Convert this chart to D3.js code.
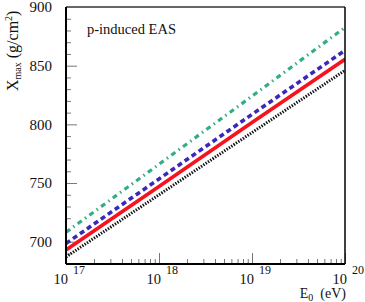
<!DOCTYPE html>
<html>
<head>
<meta charset="utf-8">
<script src="https://cdn.jsdelivr.net/npm/d3@7"></script>
<style>
  body { margin: 0; background: #fff; }
  text { font-family: "Liberation Serif", "Times New Roman", serif; fill: #111; }
</style>
</head>
<body>
<script>
// values (Xmax in g/cm2 at each energy)
var energies = [1e17, 1e18, 1e19, 1e20];
var xmaxDashDot = [708, 766, 824, 882.5];
var xmaxDashed = [698.5, 753.5, 808.5, 863];
var xmaxSolid = [693, 747, 801.5, 855.5];
var xmaxDotted = [687, 740, 793, 846];
var yMajor = [700, 750, 800, 850, 900];
var xMajorExp = [17, 18, 19, 20];

var W = 365, H = 302;
var margin = {top: 7, right: 20, bottom: 38, left: 66};
var width = W - margin.left - margin.right,
    height = H - margin.top - margin.bottom;

var x = d3.scaleLog().domain([1e17, 1e20]).range([0, width]);
var y = d3.scaleLinear().domain([681, 900]).range([height, 0]);

var svg = d3.select("body").append("svg")
    .attr("width", W)
    .attr("height", H)
  .append("g")
    .attr("transform", "translate(" + margin.left + "," + margin.top + ")");

// minor ticks
var yMinor = d3.range(690, 900, 10).filter(function(v){ return v % 50 !== 0; });
var xMinor = [];
[1e17, 1e18, 1e19].forEach(function(d){
  for (var k = 2; k <= 9; k++) xMinor.push(d * k);
});

svg.append("g")
    .attr("class", "ytick")
    .call(d3.axisLeft(y).tickValues(yMinor).tickSize(-5).tickFormat(""));
svg.append("g")
    .attr("class", "ytick")
    .call(d3.axisLeft(y).tickValues(yMajor).tickSize(-11).tickPadding(14).tickFormat(d3.format("d")));
svg.append("g")
    .attr("class", "xtick")
    .attr("transform", "translate(0," + height + ")")
    .call(d3.axisBottom(x).tickValues(xMinor).tickSize(-5).tickFormat(""));
svg.append("g")
    .attr("class", "xtick")
    .attr("transform", "translate(0," + height + ")")
    .call(d3.axisBottom(x).tickValues(energies).tickSize(-11).tickFormat(""));

svg.selectAll(".domain").remove();
svg.selectAll(".tick line").attr("stroke", "#777").attr("stroke-width", 1);
svg.selectAll(".ytick text")
    .style("font-family", "Liberation Serif")
    .style("font-size", "15px")
    .attr("fill", "#111");

// x labels: 10 with exponent
var xl = svg.append("g").selectAll("g")
  .data(xMajorExp)
  .enter().append("g")
    .attr("transform", function(d){ return "translate(" + x(Math.pow(10, d)) + "," + height + ")"; });
xl.append("text")
    .attr("x", 2).attr("y", 20)
    .attr("text-anchor", "end")
    .style("font-size", "14.5px")
    .text("10");
xl.append("text")
    .attr("x", 7).attr("y", 10)
    .style("font-size", "12px")
    .text(function(d){ return d; });

// lines
var line = d3.line()
    .x(function(d){ return x(d[0]); })
    .y(function(d){ return y(d[1]); });

var series = [
  {vals: xmaxDotted, color: "#111", dash: "1.4,1.4", w: 3},
  {vals: xmaxSolid, color: "#f5141e", dash: null, w: 3.6},
  {vals: xmaxDashed, color: "#3a28bb", dash: "5,3.5", w: 3.6},
  {vals: xmaxDashDot, color: "#33ad85", dash: "5,4,1.5,4", w: 3.2}
];

svg.append("defs").append("clipPath").attr("id", "clip")
  .append("rect").attr("width", width).attr("height", height);

svg.append("g").attr("clip-path", "url(#clip)")
  .selectAll("path")
  .data(series)
  .enter().append("path")
    .attr("d", function(s){ return line(energies.map(function(e, i){ return [e, s.vals[i]]; })); })
    .attr("fill", "none")
    .attr("stroke", function(s){ return s.color; })
    .attr("stroke-width", function(s){ return s.w; })
    .attr("stroke-dasharray", function(s){ return s.dash; });

// frame
svg.append("line").attr("x1", 0).attr("x2", width).attr("y1", 0).attr("y2", 0)
    .attr("stroke", "#666").attr("stroke-width", 2);
svg.append("line").attr("x1", width).attr("x2", width).attr("y1", 0).attr("y2", height)
    .attr("stroke", "#000").attr("stroke-width", 1.5);
svg.append("line").attr("x1", 0).attr("x2", 0).attr("y1", 0).attr("y2", height)
    .attr("stroke", "#000").attr("stroke-width", 2);
svg.append("line").attr("x1", 0).attr("x2", width).attr("y1", height).attr("y2", height)
    .attr("stroke", "#000").attr("stroke-width", 2);

// label
svg.append("text")
    .attr("x", 21).attr("y", 27)
    .style("font-size", "14.5px")
    .text("p-induced EAS");

// axis titles
var xt = svg.append("text")
    .attr("x", width + 1).attr("y", height + 34)
    .attr("text-anchor", "end")
    .style("font-size", "14px");
xt.append("tspan").text("E");
xt.append("tspan").attr("dy", 3).style("font-size", "10px").text("0");
xt.append("tspan").attr("dy", -3).attr("xml:space", "preserve").text("  (eV)");

var yt = svg.append("text")
    .attr("transform", "translate(" + (-48) + "," + 84 + ") rotate(-90)")
    .attr("text-anchor", "start")
    .style("font-size", "16px");
yt.append("tspan").text("X");
yt.append("tspan").attr("dy", 3).style("font-size", "10px").text("max");
yt.append("tspan").attr("dy", -3).text(" (g/cm");
yt.append("tspan").attr("dy", -6).style("font-size", "10px").text("2");
yt.append("tspan").attr("dy", 6).text(")");
</script>
</body>
</html>
